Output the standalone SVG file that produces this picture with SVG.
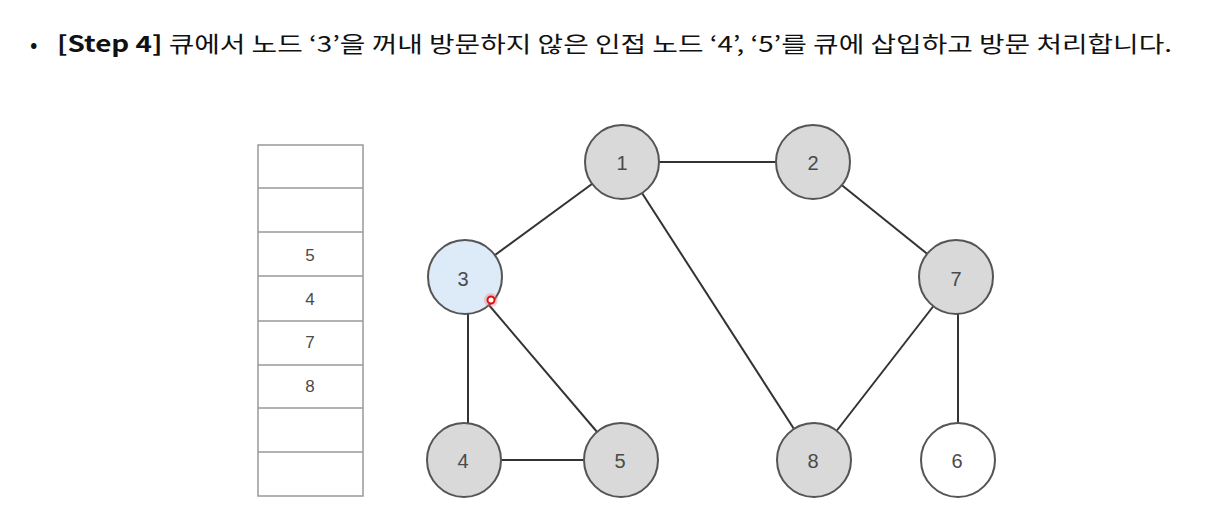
<svg xmlns="http://www.w3.org/2000/svg" width="1211" height="528" viewBox="0 0 1211 528">
<style>
.t{font-family:"Noto Sans CJK KR","Noto Sans",sans-serif;font-size:22px;fill:#111}
.node circle{fill:#d9d9d9;stroke:#555;stroke-width:2}
.node text,.q text{font-family:"Liberation Sans","Noto Sans",sans-serif;font-size:20px;fill:#4a4a4a;text-anchor:middle;dominant-baseline:central}
.q text{font-size:17px}
.q rect,.q line{fill:#fff;stroke:#999;stroke-width:1.5}
.edges line{stroke:#333;stroke-width:2}
</style>
<rect width="1211" height="528" fill="#fff"/>
<text class="t" x="30" y="52">•</text>
<text class="t" x="57" y="52" textLength="1115" lengthAdjust="spacingAndGlyphs"><tspan font-weight="bold">[Step 4]</tspan> 큐에서 노드 ‘3’을 꺼내 방문하지 않은 인접 노드 ‘4’, ‘5’를 큐에 삽입하고 방문 처리합니다.</text>
<g id="queue" class="q">
<rect x="258" y="145" width="105" height="351"/>
<line x1="258" y1="188" x2="363" y2="188"/>
<line x1="258" y1="232" x2="363" y2="232"/>
<line x1="258" y1="276" x2="363" y2="276"/>
<line x1="258" y1="321" x2="363" y2="321"/>
<line x1="258" y1="365" x2="363" y2="365"/>
<line x1="258" y1="408" x2="363" y2="408"/>
<line x1="258" y1="452" x2="363" y2="452"/>
<text x="310" y="255">5</text>
<text x="310" y="299">4</text>
<text x="310" y="342">7</text>
<text x="310" y="386">8</text>
</g>
<g id="edges" class="edges">
<line x1="622" y1="162" x2="813" y2="162"/>
<line x1="622" y1="162" x2="465" y2="277"/>
<line x1="622" y1="162" x2="814" y2="460"/>
<line x1="813" y1="162" x2="956" y2="277"/>
<line x1="468" y1="277" x2="468" y2="460"/>
<line x1="465" y1="277" x2="621" y2="460"/>
<line x1="464" y1="460" x2="621" y2="460"/>
<line x1="956" y1="277" x2="814" y2="460"/>
<line x1="958" y1="277" x2="958" y2="460"/>
</g>
<g id="node1" class="node"><circle cx="622" cy="162" r="37"/><text x="622" y="163">1</text></g>
<g id="node2" class="node"><circle cx="813" cy="162" r="37"/><text x="813" y="163">2</text></g>
<g id="node3" class="node"><circle cx="465" cy="277" r="37" style="fill:#dcebf7"/><text x="463" y="279">3</text></g>
<g id="node7" class="node"><circle cx="956" cy="277" r="37"/><text x="956" y="279">7</text></g>
<g id="node4" class="node"><circle cx="464" cy="460" r="37"/><text x="463" y="461">4</text></g>
<g id="node5" class="node"><circle cx="621" cy="460" r="37"/><text x="620" y="461">5</text></g>
<g id="node8" class="node"><circle cx="814" cy="460" r="37"/><text x="813" y="461">8</text></g>
<g id="node6" class="node"><circle cx="958" cy="460" r="37" style="fill:#fff"/><text x="957" y="461">6</text></g>
<g id="pointer">
<circle cx="491" cy="300" r="7" fill="#ff6060" opacity="0.3"/>
<circle cx="491" cy="300" r="3.5" fill="#fff" stroke="#e01010" stroke-width="2"/>
</g>
</svg>
